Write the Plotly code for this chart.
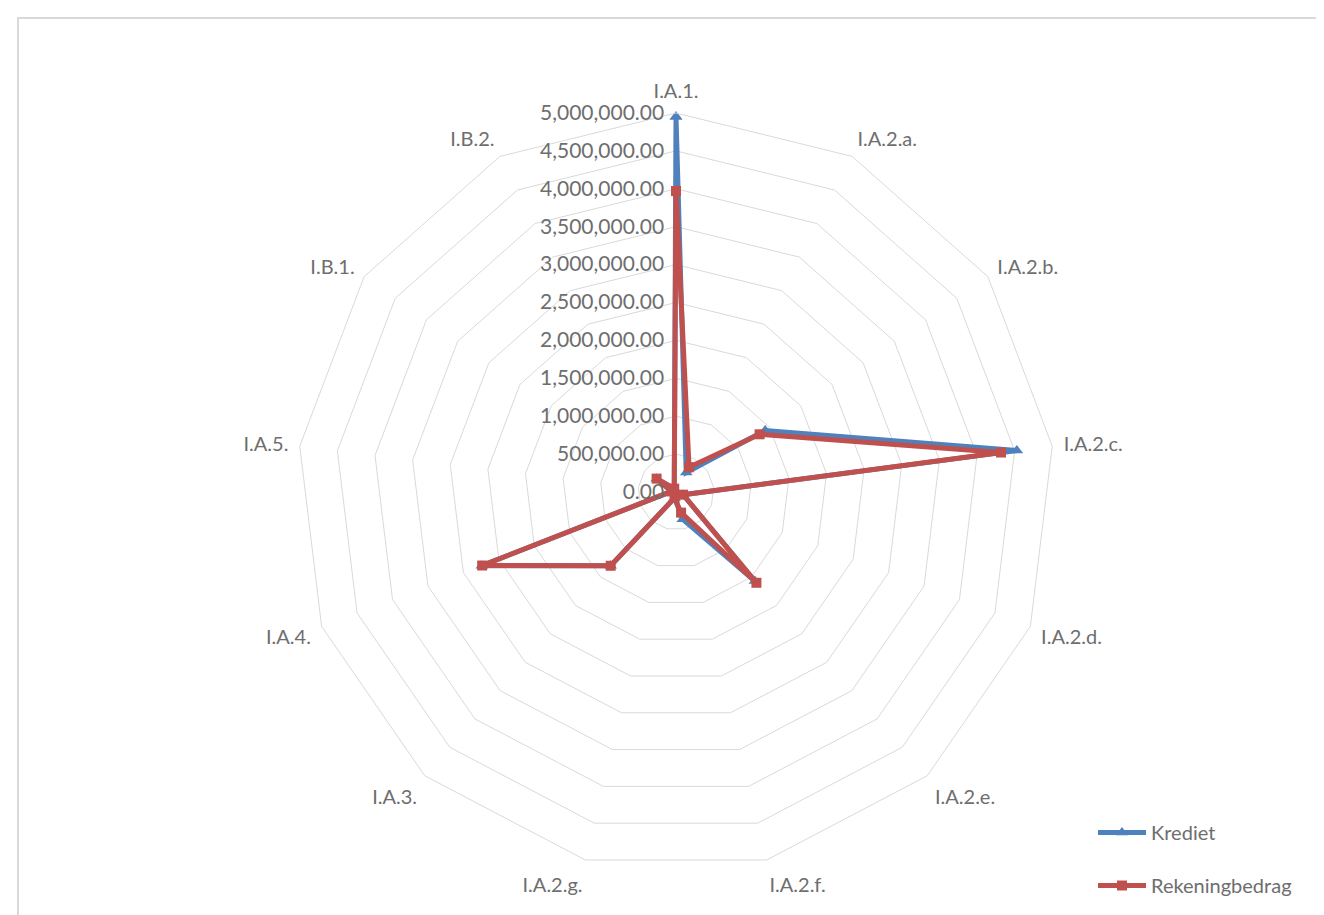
import plotly.graph_objects as go

# categories clockwise from the top
categories = ["I.A.1.", "I.A.2.a.", "I.A.2.b.", "I.A.2.c.", "I.A.2.d.", "I.A.2.e.",
              "I.A.2.f.", "I.A.2.g.", "I.A.3.", "I.A.4.", "I.A.5.", "I.B.1.", "I.B.2."]

krediet = [4950000, 290000, 1430000, 4530000, 100000, 1570000,
           370000, 80000, 1300000, 2740000, 60000, 310000, 50000]
rekeningbedrag = [3970000, 370000, 1340000, 4320000, 100000, 1600000,
                  280000, 80000, 1300000, 2735000, 60000, 311000, 50000]

radial_ticks = [i * 500000 for i in range(11)]

BLUE = "#4F81BD"
RED = "#C0504D"
GRID = "#D9D9D9"
TXT = "#6E6E6E"


def closed(vals):
    return vals + vals[:1]


fig = go.Figure()
fig.add_trace(go.Scatterpolar(
    r=closed(krediet), theta=closed(categories), name="Krediet",
    mode="lines+markers", legendgroup="k",
    line=dict(color=BLUE, width=5),
    marker=dict(symbol="triangle-up", size=11, color=BLUE),
))
fig.add_trace(go.Scatterpolar(
    r=closed(rekeningbedrag), theta=closed(categories), name="Rekeningbedrag",
    mode="lines+markers", legendgroup="r",
    line=dict(color=RED, width=5),
    marker=dict(symbol="square", size=10, color=RED),
))

W, H = 1324, 915
cx, cy, R = 668, 484, 379

fig.update_layout(
    width=W, height=H,
    margin=dict(l=0, r=0, t=0, b=0),
    paper_bgcolor="white",
    font=dict(family="Lato, 'Open Sans', sans-serif", color=TXT, size=20),
    polar=dict(
        domain=dict(x=[(cx - R) / W, (cx + R) / W],
                    y=[1 - (cy + R) / H, 1 - (cy - R) / H]),
        bgcolor="white",
        gridshape="linear",
        radialaxis=dict(
            range=[0, 5000000], tickvals=radial_ticks, tickformat=",.2f",
            angle=90, tickangle=90, side="counterclockwise",
            showline=False, gridcolor=GRID, gridwidth=1,
            ticks="outside", ticklen=4, tickcolor="rgba(0,0,0,0)",
            tickfont=dict(size=21, color=TXT),
        ),
        angularaxis=dict(
            categoryorder="array", categoryarray=categories,
            direction="clockwise", rotation=90,
            showgrid=False, showline=True, linecolor=GRID, linewidth=1,
            ticks="outside", ticklen=7, tickcolor="rgba(0,0,0,0)",
            tickfont=dict(size=20, color=TXT),
        ),
    ),
    legend=dict(
        x=1085 / W, y=1 - 805 / H, xanchor="left", yanchor="top",
        tracegroupgap=24, itemwidth=48,
        font=dict(size=20, color=TXT), bgcolor="rgba(0,0,0,0)",
    ),
    shapes=[dict(type="rect", xref="paper", yref="paper",
                 x0=10 / W, x1=1.05, y0=-0.05, y1=1 - 10 / H,
                 line=dict(color=GRID, width=2), layer="below")],
)

fig.write_html("out.html")
